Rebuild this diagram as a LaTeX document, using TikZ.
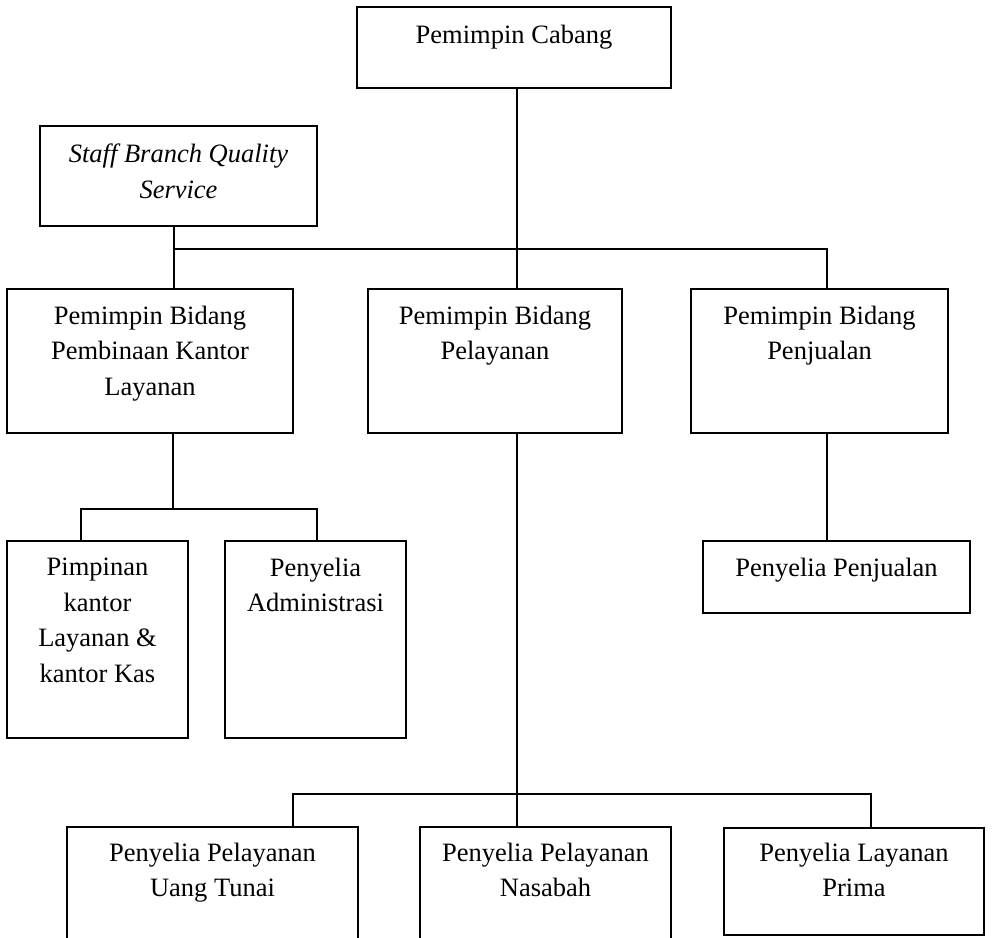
\documentclass[tikz,border=0pt]{standalone}
\usepackage{fontspec}
\setmainfont{Liberation Serif}
\begin{document}
\begin{tikzpicture}[x=0.5pt,y=-0.5pt,
  line width=0.8pt,
  orgbox/.style={draw,rectangle,inner sep=0pt,line width=0.8pt},
  openbox/.style={rectangle,inner sep=0pt},
  txt/.style={anchor=north,inner sep=0pt,align=center,font={\fontsize{13.25}{17.75}\selectfont}},
  conn/.style={line width=0.8pt}]
\useasboundingbox (0,0) rectangle (993,938);
% boxes
\node[orgbox,minimum width=157pt,minimum height=40.5pt] (cab) at (514,47.5) {};
\node[orgbox,minimum width=138.5pt,minimum height=50pt] (staff) at (178.5,176) {};
\node[orgbox,minimum width=143pt,minimum height=72pt] (pbk) at (150,361) {};
\node[orgbox,minimum width=127pt,minimum height=72pt] (pbp) at (495,361) {};
\node[orgbox,minimum width=128.5pt,minimum height=72pt] (pbj) at (819.5,361) {};
\node[orgbox,minimum width=90.5pt,minimum height=98.5pt] (pkl) at (97.5,639.5) {};
\node[orgbox,minimum width=90.5pt,minimum height=98.5pt] (adm) at (315.5,639.5) {};
\node[orgbox,minimum width=133.5pt,minimum height=36pt] (pjl) at (836.5,577) {};
\node[openbox,minimum width=144.5pt,minimum height=60pt] (put) at (212.5,888) {};
\node[openbox,minimum width=124.5pt,minimum height=60pt] (pnas) at (545.5,888) {};
\node[orgbox,minimum width=130pt,minimum height=53.5pt] (prim) at (854,881.5) {};
\draw (put.south west) |- (put.north east) -- (put.south east);
\draw (pnas.south west) |- (pnas.north east) -- (pnas.south east);
% texts
\node[txt] (tcab) at ([yshift=-9pt]cab.north) {Pemimpin Cabang};
\node[txt,font={\fontsize{13.25}{17.75}\selectfont\itshape}] (tstaff) at ([yshift=-9pt]staff.north) {Staff Branch Quality\\Service};
\node[txt] (tpbk) at ([yshift=-8.5pt]pbk.north) {Pemimpin Bidang\\Pembinaan Kantor\\Layanan};
\node[txt] (tpbp) at ([yshift=-8.5pt]pbp.north) {Pemimpin Bidang\\Pelayanan};
\node[txt] (tpbj) at ([yshift=-8.5pt]pbj.north) {Pemimpin Bidang\\Penjualan};
\node[txt] (tpkl) at ([yshift=-8.5pt]pkl.north) {Pimpinan\\kantor\\Layanan \&\\kantor Kas};
\node[txt] (tadm) at ([yshift=-8.5pt]adm.north) {Penyelia\\Administrasi};
\node[txt] (tpjl) at ([yshift=-8.5pt]pjl.north) {Penyelia Penjualan};
\node[txt] (tput) at ([yshift=-7.5pt]put.north) {Penyelia Pelayanan\\Uang Tunai};
\node[txt] (tpnas) at ([yshift=-7.5pt]pnas.north) {Penyelia Pelayanan\\Nasabah};
\node[txt] (tprim) at ([yshift=-7.5pt]prim.north) {Penyelia Layanan\\Prima};
% junction coordinates
\coordinate (j1) at (517,249);
\coordinate (h1) at (174,249);
\coordinate (h2) at (827,249);
\coordinate (k1) at (173,509);
\coordinate (k2) at (81,509);
\coordinate (k3) at (317,509);
\coordinate (b1) at (293,794);
\coordinate (b2) at (871,794);
% connectors
\draw[conn] (cab.south -| j1) -- (pbp.north -| j1);
\draw[conn] (staff.south -| h1) -- (pbk.north -| h1);
\draw[conn] (h1) -- (h2) -- (pbj.north -| h2);
\draw[conn] (pbk.south -| k1) -- (k1);
\draw[conn] (pkl.north -| k2) |- (k3) -- (adm.north -| k3);
\draw[conn] (pbj.south -| h2) -- (pjl.north -| h2);
\draw[conn] (pbp.south -| j1) -- (pnas.north -| j1);
\draw[conn] (put.north -| b1) |- (b2) -- (prim.north -| b2);
\end{tikzpicture}
\end{document}
